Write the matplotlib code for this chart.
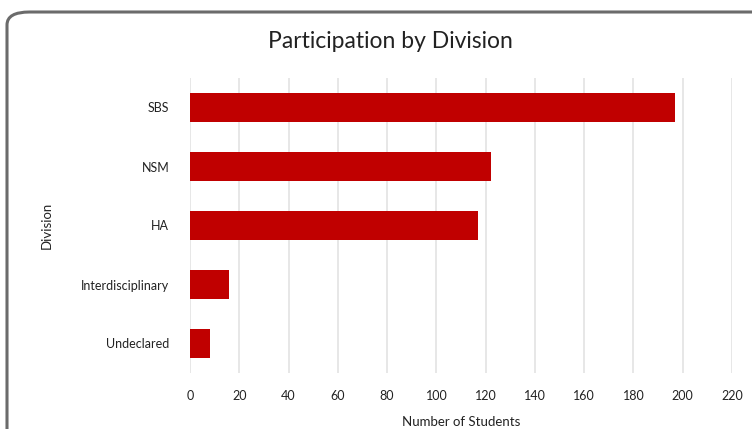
import numpy as np
import matplotlib.pyplot as plt
from matplotlib.patches import FancyBboxPatch

# data
divisions = ['SBS', 'NSM', 'HA', 'Interdisciplinary', 'Undeclared']
students = [197, 122, 117, 16, 8]
xticks = list(range(0, 221, 20))

plt.rcParams['font.family'] = ['Lato', 'DejaVu Sans']

W, H = 752, 429
fig = plt.figure(figsize=(W/100, H/100), dpi=100)

# rounded border of the chart area (runs off the right and bottom)
border = FancyBboxPatch((7/W, -0.1), 1.2, (H - 12)/H + 0.1,
                        boxstyle='round,pad=0,rounding_size=0.03',
                        transform=fig.transFigure, fill=False,
                        edgecolor='#6b6b6b', linewidth=2.2)
fig.patches.append(border)

ax = fig.add_axes([190/W, 1 - 373/H, (732 - 190)/W, (373 - 78)/H])
y = np.arange(len(divisions))
ax.barh(y, students, height=0.48, color='#c00000', zorder=3)
ax.set_ylim(len(divisions) - 0.5, -0.5)
ax.set_xlim(0, 220)
ax.set_xticks(xticks)
ax.set_yticks(y)
ax.set_yticklabels(divisions)
ax.grid(axis='x', color='#e3e3e3', linewidth=1.2, zorder=0)
for s in ax.spines.values():
    s.set_visible(False)
ax.tick_params(length=0, labelsize=9, colors='#222222')
ax.tick_params(axis='y', pad=15)
ax.tick_params(axis='x', pad=12)

ax.set_xlabel('Number of Students', fontsize=9.5, color='#222222', labelpad=10)
ax.set_ylabel('Division', fontsize=9.5, color='#222222', labelpad=20)
fig.text(390/W, 1 - 42/H, 'Participation by Division', ha='center', va='center',
         fontsize=16.5, color='#222222')

fig.savefig('out.png', dpi=100)
